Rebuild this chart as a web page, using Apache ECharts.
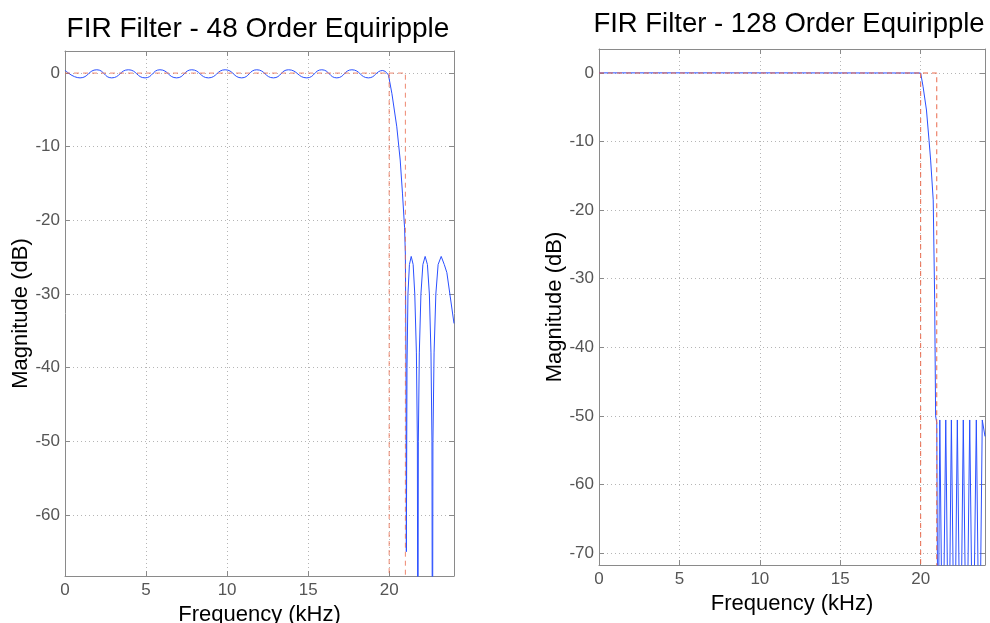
<!DOCTYPE html>
<html>
<head>
<meta charset="utf-8">
<script src="https://cdn.jsdelivr.net/npm/echarts@6/dist/echarts.min.js"></script>
<style>
  html, body { margin: 0; padding: 0; background: #fff; }
  #chart { width: 990px; height: 623px; }
</style>
</head>
<body>
<div id="chart"></div>
<script>
// titles
const titles = ['FIR Filter - 48 Order Equiripple', 'FIR Filter - 128 Order Equiripple'];

// 48 order: passband ripple (kHz, dB), read at peaks/troughs
const pass48 = [
  [0, 0.4], [0.93, -0.65], [1.96, 0.45], [2.88, -0.65], [3.91, 0.45], [4.94, -0.65],
  [5.86, 0.45], [6.89, -0.65], [7.82, 0.45], [8.85, -0.65], [9.88, 0.45], [10.9, -0.65],
  [11.83, 0.45], [12.86, -0.65], [13.79, 0.45], [14.92, -0.65], [15.84, 0.45], [16.77, -0.65],
  [17.7, 0.45], [18.72, -0.65], [19.6, 0.35], [19.96, -0.3]
];
// 48 order: transition + stopband
const stop48 = [
  [19.96, -0.3], [20.17, -2.8], [20.47, -7.3], [20.68, -11.8], [20.82, -16.3], [20.95, -21],
  [21.0, -24.7], [21.04, -40], [21.06, -65], [21.1, -40], [21.16, -30], [21.25, -26],
  [21.36, -24.9], [21.48, -26], [21.58, -30], [21.68, -38], [21.74, -50], [21.77, -90],
  [21.8, -50], [21.86, -38], [21.96, -30], [22.08, -26], [22.22, -24.9], [22.36, -26],
  [22.48, -30], [22.58, -38], [22.64, -50], [22.67, -90], [22.7, -50], [22.77, -38],
  [22.88, -30], [23.02, -26], [23.21, -24.9], [23.4, -26], [23.56, -27.1], [23.77, -30.4],
  [24.0, -34]
];

// 128 order: passband (flat) and transition + stopband
const pass128 = [[0, 0.02], [10, 0.02], [20, 0]];
const stop128 = [
  [20, 0], [20.15, -2], [20.36, -5.4], [20.52, -9.8], [20.62, -12.7], [20.78, -18.5],
  [20.87, -33], [20.93, -50], [21.0, -51], [21.08, -90], [21.19, -50.6], [21.37, -90],
  [21.56, -50.6], [21.74, -90], [21.91, -50.6], [22.1, -90], [22.28, -50.6], [22.47, -90],
  [22.65, -50.6], [22.85, -90], [23.05, -50.6], [23.25, -90], [23.46, -50.6], [23.65, -90],
  [23.83, -50.6], [24.0, -53]
];

// spec mask (same for both designs)
const maskUpper = [[0, 0], [21, 0], [21, -100]];
const maskPassEdge = [[20, 0], [20, -100]];

// axis ranges
const freqRange = [0, 24];
const magRange48 = [-68.3, 3];
const magRange128 = [-71.75, 3.5];

const FONT = '"Liberation Sans", Arial, Helvetica, sans-serif';
const chart = echarts.init(document.getElementById('chart'));

function xAxes(gi, gap) {
  const base = {
    type: 'value', gridIndex: gi, min: freqRange[0], max: freqRange[1], interval: 5,
    axisLine: { show: true, onZero: false, lineStyle: { color: '#8a8a8a', width: 1 } },
    axisTick: { show: true, inside: true, length: 5, lineStyle: { color: '#8a8a8a' } },
    splitLine: { show: false }
  };
  return [
    Object.assign({}, base, {
      position: 'bottom',
      name: 'Frequency (kHz)', nameLocation: 'middle', nameGap: gap,
      nameTextStyle: { fontFamily: FONT, fontSize: 22, color: '#000' },
      axisLabel: { fontFamily: FONT, fontSize: 17, color: '#555', margin: 6, showMaxLabel: false },
      splitLine: { show: true, lineStyle: { color: '#b5b5b5', type: [1, 3] } }
    }),
    Object.assign({}, base, { position: 'top', axisLabel: { show: false } })
  ];
}

function yAxes(gi, range, gap) {
  const base = {
    type: 'value', gridIndex: gi, min: range[0], max: range[1],
    minInterval: 10, maxInterval: 10, splitNumber: 7,
    axisLine: { show: true, onZero: false, lineStyle: { color: '#8a8a8a', width: 1 } },
    axisTick: { show: true, inside: true, length: 5, lineStyle: { color: '#8a8a8a' } },
    splitLine: { show: false }
  };
  return [
    Object.assign({}, base, {
      position: 'left',
      name: 'Magnitude (dB)', nameLocation: 'middle', nameGap: gap, nameRotate: 90,
      nameTextStyle: { fontFamily: FONT, fontSize: 22, color: '#000' },
      axisLabel: { fontFamily: FONT, fontSize: 17, color: '#555', margin: 5, showMinLabel: false, showMaxLabel: false },
      splitLine: { show: true, lineStyle: { color: '#b5b5b5', type: [1, 3] } }
    }),
    Object.assign({}, base, { position: 'right', axisLabel: { show: false } })
  ];
}

function lineSeries(data, xi, yi, color, opts) {
  return Object.assign({
    type: 'line', data: data, xAxisIndex: xi, yAxisIndex: yi,
    showSymbol: false, symbol: 'none', clip: true, animation: false,
    lineStyle: { color: color, width: 1 }
  }, opts || {});
}

const blue = '#2b50ff';
const red = '#ea6a4c';

chart.setOption({
  backgroundColor: '#fff',
  animation: false,
  title: [
    { text: titles[0], left: 253, top: 10, textAlign: 'center',
      textStyle: { fontFamily: FONT, fontSize: 28, fontWeight: 'normal', color: '#000' } },
    { text: titles[1], left: 784, top: 5, textAlign: 'center',
      textStyle: { fontFamily: FONT, fontSize: 27.5, fontWeight: 'normal', color: '#000' } }
  ],
  grid: [
    { left: 65, top: 51, width: 389, height: 525, containLabel: false, outerBoundsMode: 'none' },
    { left: 599, top: 49, width: 386, height: 516, containLabel: false, outerBoundsMode: 'none' }
  ],
  xAxis: xAxes(0, 25).concat(xAxes(1, 28)),
  yAxis: yAxes(0, magRange48, 32).concat(yAxes(1, magRange128, 30)),
  series: [
    lineSeries(pass48, 0, 0, blue, { smooth: true }),
    lineSeries(stop48, 0, 0, blue),
    lineSeries(maskUpper, 0, 0, red, { lineStyle: { color: red, width: 1, type: [5, 4], opacity: 0.8 } }),
    lineSeries(maskPassEdge, 0, 0, red, { lineStyle: { color: red, width: 1, type: [5, 4], opacity: 0.8 } }),

    lineSeries(pass128, 2, 2, blue),
    lineSeries(stop128, 2, 2, blue),
    lineSeries(maskUpper, 2, 2, red, { lineStyle: { color: red, width: 1, type: [5, 4] } }),
    lineSeries(maskPassEdge, 2, 2, red, { lineStyle: { color: red, width: 1, type: [5, 4] } })
  ]
});
</script>
</body>
</html>
